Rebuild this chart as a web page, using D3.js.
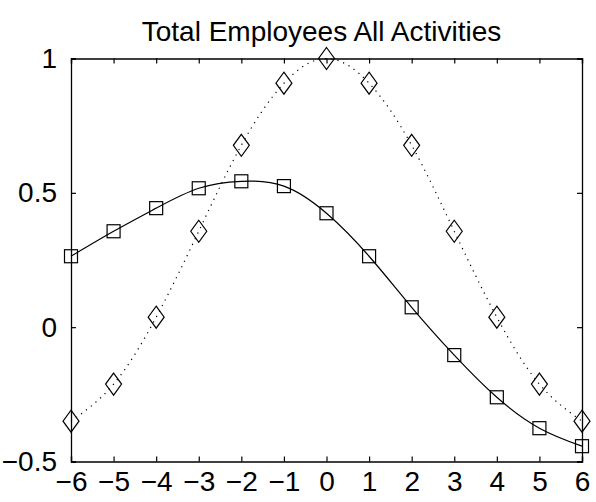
<!DOCTYPE html>
<html lang="en">
<head>
	<meta charset="UTF-8">
	<title>Total Employees All Activities</title>
	<style>
		body { margin: 0; background: #fff; }
		svg text { font-family: "Liberation Sans", Arial, sans-serif; fill: #000; }
		.axis path, .axis line { stroke: #000; }
	</style>
	<script src="https://cdn.jsdelivr.net/npm/d3@7/dist/d3.min.js"></script>
</head>
<body>
<script>
	var lags = [-6, -5, -4, -3, -2, -1, 0, 1, 2, 3, 4, 5, 6];
	var squareVals = [0.264, 0.357, 0.443, 0.517, 0.543, 0.525, 0.424, 0.264, 0.074, -0.104, -0.261, -0.376, -0.443];
	var diamondVals = [-0.35, -0.212, 0.037, 0.357, 0.677, 0.908, 1, 0.908, 0.677, 0.357, 0.037, -0.212, -0.35];
	var xTicks = [-6, -5, -4, -3, -2, -1, 0, 1, 2, 3, 4, 5, 6];
	var yTicks = [-0.5, 0, 0.5, 1];
	var chartTitle = "Total Employees All Activities";

	var margin = {top: 58.5, right: 14, bottom: 40.5, left: 71},
		width = 596 - margin.left - margin.right,
		height = 502 - margin.top - margin.bottom;

	var svg = d3.select("body").append("svg")
		.attr("width", 596)
		.attr("height", 502);

	var g = svg.append("g")
		.attr("transform", "translate(" + margin.left + "," + margin.top + ")");

	var x = d3.scaleLinear().domain([-6, 6]).range([0, width]);
	var y = d3.scaleLinear().domain([-0.5, 1]).range([height, 0]);

	var fmt = function(d) { return String(d).replace("-", "\u2212"); };

	// box with inward ticks on all sides
	var axB = g.append("g").attr("class", "axis")
		.attr("transform", "translate(0," + height + ")")
		.call(d3.axisBottom(x).tickValues(xTicks).tickSize(-5).tickPadding(10).tickFormat(fmt));
	var axT = g.append("g").attr("class", "axis")
		.call(d3.axisTop(x).tickValues(xTicks).tickSize(-5).tickFormat(""));
	var axL = g.append("g").attr("class", "axis")
		.call(d3.axisLeft(y).tickValues(yTicks).tickSize(-5).tickPadding(14).tickFormat(fmt));
	var axR = g.append("g").attr("class", "axis")
		.attr("transform", "translate(" + width + ",0)")
		.call(d3.axisRight(y).tickValues(yTicks).tickSize(-5).tickFormat(""));

	[axB, axT, axL, axR].forEach(function(a) {
		a.select(".domain").attr("stroke-width", 1.3);
		a.selectAll(".tick line").attr("stroke-width", 1.2);
		a.selectAll("text").style("font-size", "28px")
			.style("font-family", "'Liberation Sans', Arial, sans-serif");
	});
	axB.selectAll("text").attr("dy", "0.71em");

	var line = d3.line().curve(d3.curveNatural)
		.x(function(d, i) { return x(lags[i]); })
		.y(function(d) { return y(d); });

	g.append("path")
		.datum(diamondVals)
		.attr("fill", "none")
		.attr("stroke", "#000")
		.attr("stroke-width", 1.2)
		.attr("stroke-dasharray", "1.2,5")
		.attr("d", line);

	g.append("path")
		.datum(squareVals)
		.attr("fill", "none")
		.attr("stroke", "#000")
		.attr("stroke-width", 1.2)
		.attr("d", line);

	g.selectAll(".sq")
		.data(squareVals)
		.enter().append("rect")
		.attr("class", "sq")
		.attr("x", function(d, i) { return x(lags[i]) - 6.5; })
		.attr("y", function(d) { return y(d) - 6.5; })
		.attr("width", 13)
		.attr("height", 13)
		.attr("fill", "none")
		.attr("stroke", "#000")
		.attr("stroke-width", 1.2);

	g.selectAll(".dm")
		.data(diamondVals)
		.enter().append("path")
		.attr("class", "dm")
		.attr("d", function(d, i) {
			var cx = x(lags[i]), cy = y(d);
			return "M" + cx + "," + (cy - 11) + "L" + (cx + 8) + "," + cy +
				"L" + cx + "," + (cy + 11) + "L" + (cx - 8) + "," + cy + "Z";
		})
		.attr("fill", "none")
		.attr("stroke", "#000")
		.attr("stroke-width", 1.2);

	svg.append("text")
		.attr("x", margin.left + width / 2 - 5)
		.attr("y", 41)
		.attr("text-anchor", "middle")
		.style("font-size", "28px")
		.text(chartTitle);
</script>
</body>
</html>
